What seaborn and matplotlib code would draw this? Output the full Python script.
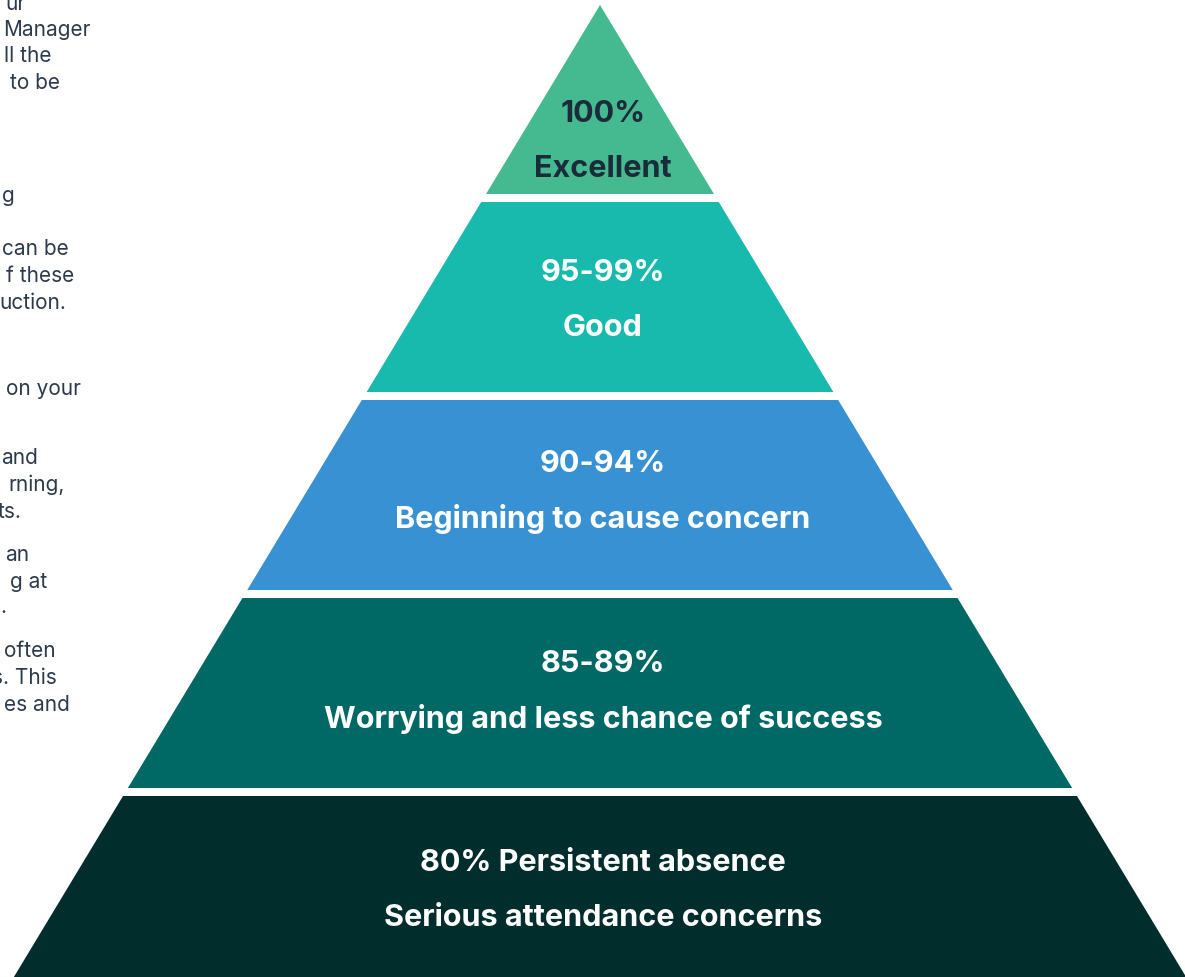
import matplotlib
matplotlib.use("Agg")
import matplotlib.pyplot as plt
import seaborn as sns

# attendance bands, top of the pyramid first
bands = ["100%", "95-99%", "90-94%", "85-89%", "80% Persistent absence"]
meanings = ["Excellent", "Good", "Beginning to cause concern",
            "Worrying and less chance of success", "Serious attendance concerns"]
band_colors = ["#45BA91", "#18BAAE", "#3791D3", "#006965", "#012E2D"]
text_colors = ["#1C2B3A", "white", "white", "white", "white"]

# clipped paragraph fragments on the left edge
side_text = ["ur", "Manager", "ll the", "to be", "g", "can be", "f these",
             "uction.", "on your", "and", "rning,", "ts.", "an", "g at", ".",
             "often", "s. This", "es and"]
side_y = [4, 30, 56, 83, 196, 249, 276, 303, 389, 458, 485, 512, 555, 582,
          607, 651, 678, 705]
side_right = [26, 91, 51, 60, 15, 69, 74, 66, 81, 38, 65, 22, 29, 47, 6,
              56, 57, 70]

sns.set_theme(style="white")
plt.rcParams["font.family"] = ["Inter", "DejaVu Sans"]

W, H = 1185, 978
fig = plt.figure(figsize=(W / 100, H / 100), dpi=100)
ax = fig.add_axes([0, 0, 1, 1])
ax.set_xlim(0, W)
ax.set_ylim(H, 0)
ax.axis("off")

apex_x, apex_y, slope = 600, 6, 0.603
step, gap = 198, 8
first_bottom = 195
line1_off = [-81, -120, -127, -125, -124]

for i, (b, m, c, tc) in enumerate(zip(bands, meanings, band_colors, text_colors)):
    bottom = first_bottom + step * i
    top = apex_y if i == 0 else bottom - step + gap
    ht = (top - apex_y) * slope
    hb = (bottom - apex_y) * slope
    xs = [apex_x - ht, apex_x + ht, apex_x + hb, apex_x - hb]
    ys = [top, top, bottom, bottom]
    ax.fill(xs, ys, color=c, lw=0)
    y1 = bottom + line1_off[i]
    ax.text(apex_x + 3, y1, b, color=tc, ha="center", va="center",
            fontsize=22, fontweight="bold")
    ax.text(apex_x + 3, y1 + 55, m, color=tc, ha="center", va="center",
            fontsize=22, fontweight="bold")

for t, y, x in zip(side_text, side_y, side_right):
    ax.text(x, y, t, ha="right", va="center", fontsize=15, color="#2C3A4B")

fig.savefig("out.png", dpi=100)
